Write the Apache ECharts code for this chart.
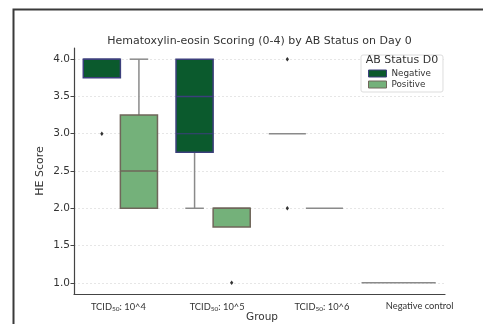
<!DOCTYPE html>
<html>
<head>
<meta charset="utf-8">
<script src="https://cdn.jsdelivr.net/npm/echarts@6/dist/echarts.min.js"></script>
<style>
  html, body { margin: 0; padding: 0; background: #fff; }
  #chart { width: 483px; height: 324px; }
</style>
</head>
<body>
<div id="chart"></div>
<script>
// Groups on the x axis
const categories = ['TCID50: 10^4', 'TCID50: 10^5', 'TCID50: 10^6', 'Negative control'];
const hues = ['Negative', 'Positive'];

// Box statistics per group: [min, Q1, median, Q3, max]; null = no data for that group
const negStats = [[3.75, 3.75, 4.0, 4.0, 4.0], [2.0, 2.75, 3.5, 4.0, 4.0], [3.0, 3.0, 3.0, 3.0, 3.0], [1.0, 1.0, 1.0, 1.0, 1.0]];
const posStats = [[2.0, 2.0, 2.5, 3.25, 4.0], [1.75, 1.75, 2.0, 2.0, 2.0], [2.0, 2.0, 2.0, 2.0, 2.0], null];

// Extra horizontal reference line drawn inside the Negative box
const negRefLine = [null, 3.0, null, null];

// Outliers per group
const negFliers = [[3.0], [], [4.0, 2.0], []];
const posFliers = [[], [1.0], [], []];

// Y axis ticks
const yTicks = [1.0, 1.5, 2.0, 2.5, 3.0, 3.5, 4.0];

const fillColors = ['#0b5a2d', '#74b17a'];
const edgeColors = ['#3c3f7c', '#6f665a'];
const whiskerColor = '#8a8a8a';

const allStats = [negStats, posStats];

function boxRows(stats, refs) {
  return stats.map((s, i) => s ? [i].concat(s, [refs ? (refs[i] == null ? NaN : refs[i]) : NaN]) : null)
              .filter(r => r);
}
function flierRows(fl) {
  const rows = [];
  fl.forEach((vals, i) => vals.forEach(v => rows.push([i, v])));
  return rows;
}

// horizontal position of a hue's box inside its group
function boxGeom(api, hueIdx, ci) {
  const band = api.size([1, 0])[0];
  const other = allStats[1 - hueIdx][ci];
  const solo = !other;
  const w = solo ? band * 0.8 : band * 0.4;
  const off = solo ? 0 : (hueIdx === 0 ? -w / 2 : w / 2);
  const cx = api.coord([ci, 0])[0] + off;
  return { w, cx };
}

function makeBoxRender(hueIdx) {
  return function (params, api) {
    const ci = api.value(0);
    const [mn, q1, md, q3, mx] = [1, 2, 3, 4, 5].map(k => api.value(k));
    const ref = api.value(6);
    const { w, cx } = boxGeom(api, hueIdx, ci);
    const y = v => api.coord([ci, v])[1];
    const children = [];
    const ws = { stroke: whiskerColor, lineWidth: 1.5 };
    if (mn < q1) {
      children.push({ type: 'line', shape: { x1: cx, y1: y(q1), x2: cx, y2: y(mn) }, style: ws });
      children.push({ type: 'line', shape: { x1: cx - w / 4, y1: y(mn), x2: cx + w / 4, y2: y(mn) }, style: ws });
    }
    if (mx > q3) {
      children.push({ type: 'line', shape: { x1: cx, y1: y(q3), x2: cx, y2: y(mx) }, style: ws });
      children.push({ type: 'line', shape: { x1: cx - w / 4, y1: y(mx), x2: cx + w / 4, y2: y(mx) }, style: ws });
    }
    if (q3 > q1) {
      children.push({
        type: 'rect',
        shape: { x: cx - w / 2, y: y(q3), width: w, height: y(q1) - y(q3) },
        style: { fill: fillColors[hueIdx], stroke: edgeColors[hueIdx], lineWidth: 1.5 }
      });
      children.push({ type: 'line', shape: { x1: cx - w / 2, y1: y(md), x2: cx + w / 2, y2: y(md) },
                      style: { stroke: edgeColors[hueIdx], lineWidth: 1.5 } });
      if (!isNaN(ref)) {
        children.push({ type: 'line', shape: { x1: cx - w / 2, y1: y(ref), x2: cx + w / 2, y2: y(ref) },
                        style: { stroke: edgeColors[hueIdx], lineWidth: 1.2 } });
      }
    } else {
      children.push({ type: 'line', shape: { x1: cx - w / 2, y1: y(md), x2: cx + w / 2, y2: y(md) }, style: ws });
    }
    return { type: 'group', children };
  };
}

function makeFlierRender(hueIdx) {
  return function (params, api) {
    const ci = api.value(0);
    const v = api.value(1);
    const { cx } = boxGeom(api, hueIdx, ci);
    const cy = api.coord([ci, v])[1];
    const r = 2.2;
    return {
      type: 'polygon',
      shape: { points: [[cx, cy - r], [cx + r * 0.75, cy], [cx, cy + r], [cx - r * 0.75, cy]] },
      style: { fill: '#333' }
    };
  };
}

// small horizontal shifts of the group labels
const labelShift = [-2, 4, 16, 21];

const rich = { t: { fontSize: 9.3, color: '#333', fontFamily: 'Lato' },
               s: { fontSize: 6.5, color: '#333', fontFamily: 'Lato', verticalAlign: 'bottom', padding: [4, 0, 0, 0] } };
labelShift.forEach((d, i) => {
  rich['g' + i] = { width: Math.abs(d) * 2, fontSize: 9.3 };
});

function groupLabel(value, idx) {
  const d = labelShift[idx];
  const body = value.indexOf('TCID50') === 0
    ? '{t|TCID}{s|50}{t|' + value.slice(6) + '}'
    : '{t|' + value + '}';
  const sp = '{g' + idx + '| }';
  return d >= 0 ? sp + body : body + sp;
}

const chart = echarts.init(document.getElementById('chart'));
chart.setOption({
  animation: false,
  backgroundColor: '#fff',
  textStyle: { fontFamily: 'DejaVu Sans' },
  title: [
    { text: 'Hematoxylin-eosin Scoring (0-4) by AB Status on Day 0',
      left: 259.5, textAlign: 'center', top: 36, padding: 0,
      textStyle: { fontSize: 11, fontWeight: 'normal', color: '#333', fontFamily: 'DejaVu Sans' } },
    { text: 'AB Status D0', left: 402, textAlign: 'center', top: 55, padding: 0,
      textStyle: { fontSize: 11, fontWeight: 'normal', color: '#333', fontFamily: 'DejaVu Sans' } }
  ],
  legend: {
    orient: 'vertical', left: 361, top: 55, width: 84,
    padding: [14, 12, 3, 7], itemGap: 2, itemWidth: 18, itemHeight: 7,
    borderColor: '#ddd', borderWidth: 1, borderRadius: 2, backgroundColor: '#fff',
    textStyle: { fontSize: 8.8, color: '#333', fontFamily: 'DejaVu Sans' },
    data: hues.map((h, i) => ({ name: h, icon: 'rect',
      itemStyle: { color: fillColors[i], borderColor: edgeColors[i], borderWidth: 1 } }))
  },
  grid: { left: 74, right: 38, top: 48, bottom: 30, outerBoundsMode: 'none', containLabel: false },
  xAxis: {
    type: 'category', data: categories, boundaryGap: true,
    name: 'Group', nameLocation: 'middle', nameGap: 18, nameMoveOverlap: false,
    nameTextStyle: { fontSize: 10.5, color: '#333', fontFamily: 'DejaVu Sans', padding: [0, 0, 0, 5] },
    axisLine: { lineStyle: { color: '#444', width: 1.2 } },
    axisTick: { alignWithLabel: true, length: 3, lineStyle: { color: '#666' } },
    axisLabel: { margin: 7, interval: 0, hideOverlap: false, formatter: groupLabel, rich: rich },
    splitLine: { show: false }
  },
  yAxis: {
    type: 'value', min: 0.85, max: 4.15,
    name: 'HE Score', nameLocation: 'middle', nameGap: 28, nameMoveOverlap: false,
    nameTextStyle: { fontSize: 11, color: '#333', fontFamily: 'DejaVu Sans' },
    axisLine: { show: true, lineStyle: { color: '#444', width: 1.2 } },
    axisTick: { show: true, length: 3.5, customValues: yTicks, lineStyle: { color: '#444' } },
    axisLabel: { customValues: yTicks, margin: 4, fontSize: 10.5, color: '#333', fontFamily: 'DejaVu Sans',
                 formatter: v => v.toFixed(1) },
    splitLine: { show: true, lineStyle: { color: '#e6e6e6', type: [2, 2], width: 1 } }
  },
  series: [
    { name: 'Negative', type: 'custom', renderItem: makeBoxRender(0), data: boxRows(negStats, negRefLine),
      encode: { x: 0, y: [1, 2, 3, 4, 5] }, z: 3 },
    { name: 'Positive', type: 'custom', renderItem: makeBoxRender(1), data: boxRows(posStats, null),
      encode: { x: 0, y: [1, 2, 3, 4, 5] }, z: 3 },
    { name: 'Negative', type: 'custom', renderItem: makeFlierRender(0), data: flierRows(negFliers),
      encode: { x: 0, y: 1 }, z: 4 },
    { name: 'Positive', type: 'custom', renderItem: makeFlierRender(1), data: flierRows(posFliers),
      encode: { x: 0, y: 1 }, z: 4 }
  ],
  graphic: [
    { type: 'polyline', shape: { points: [[13.5, 330], [13.5, 9.5], [490, 9.5]] },
      style: { stroke: '#3a3a3a', lineWidth: 2, fill: null } }
  ]
});
</script>
</body>
</html>
